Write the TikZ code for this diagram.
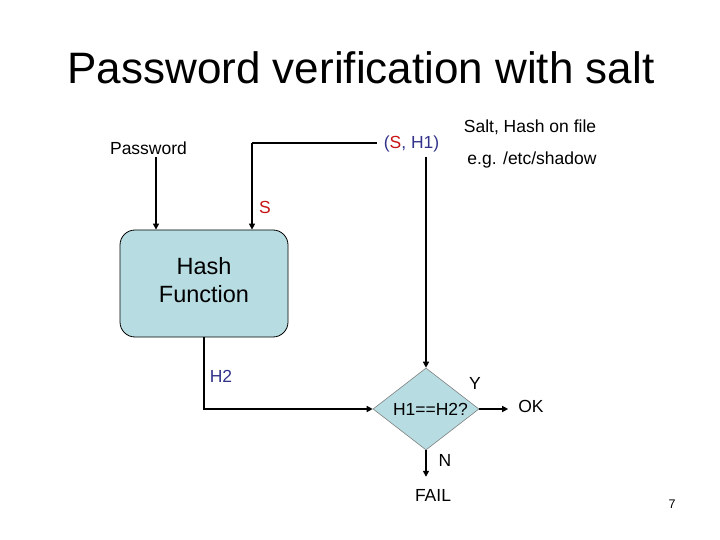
\documentclass[tikz,border=0pt]{standalone}
\usepackage{fontspec}
\setmainfont{Liberation Sans}
\usetikzlibrary{arrows.meta,shapes.geometric,calc}
\definecolor{boxfill}{RGB}{183,221,227}
\definecolor{sred}{RGB}{200,20,20}
\definecolor{navy}{RGB}{51,51,140}
\tikzset{
  conn/.style={line width=1.4pt},
  arr/.style={conn,-{Triangle[length=6pt,width=6pt]}},
  txt/.style={inner sep=0pt,font=\fontsize{17.5}{21}\selectfont},
}
\begin{document}
\begin{tikzpicture}[x=1pt,y=-1pt]
\useasboundingbox[fill=white] (0,0) rectangle (720,540);
\node[inner sep=0pt,font=\fontsize{44}{50}\selectfont] (title) at (361,68) {Password verification with salt};
\node[txt] (pw) at (148.5,148) {Password};
\node[txt] (sh) at (411.5,144) {\textcolor{navy}{(}\textcolor{sred}{S}\textcolor{navy}{, H1)}};
\node[txt] (salt) at (530,127) {Salt, Hash on file};
\node[txt] (shadow) at (532,160) {e.g. /etc/shadow};
\node[draw=black,line width=0.8pt,fill=boxfill,rounded corners=15pt,minimum width=168pt,minimum height=107pt,label={[align=center,yshift=3.5pt,font=\fontsize{23.5}{28.5}\selectfont]center:Hash\\Function}] (hash) at (204,283.5) {};
\node[diamond,draw=gray,line width=0.6pt,fill=boxfill,inner sep=0pt,minimum width=106pt,minimum height=82pt,label={[txt,xshift=4.5pt]center:H1==H2?}] (dia) at (426,409) {};
\node[txt,text=sred] (s) at (265,207) {S};
\node[txt,text=navy] (h2) at (221,376) {H2};
\node[txt] (y) at (475,383) {Y};
\node[txt] (ok) at (531,406) {OK};
\node[txt] (n) at (445,460) {N};
\node[txt] (fail) at (433,495) {FAIL};
\node[inner sep=0pt,font=\fontsize{12.5}{15}\selectfont] (num) at (672,504) {7};
\coordinate (pin) at (156,157);
\coordinate (sleft) at (377,143);
\coordinate (sx) at (252,143);
\coordinate (hin) at (426,157);
\coordinate (hout) at (204,337);
\draw[arr] (pin) -- (pin |- hash.north);
\draw[conn] (sleft) -- (sx);
\draw[arr] (sx) -- (sx |- hash.north);
\draw[arr] (hin) -- (dia.north);
\draw[arr] (hout) |- (dia.west);
\draw[arr] (dia.east) -- ($(ok.west)+(-10,3)$);
\draw[arr] (dia.south) -- ($(fail.north)+(-7,-12)$);
\end{tikzpicture}
\end{document}
